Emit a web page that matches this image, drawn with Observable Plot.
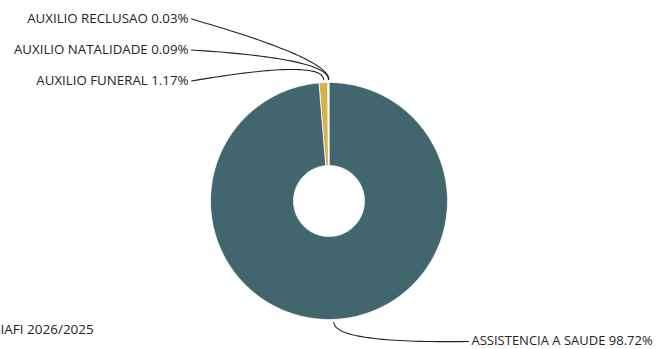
<!DOCTYPE html>
<html>
<head>
<meta charset="utf-8">
<script src="https://cdn.jsdelivr.net/npm/d3@7"></script>
<script src="https://cdn.jsdelivr.net/npm/@observablehq/plot@0.6"></script>
<style>
  html, body { margin: 0; padding: 0; background: #fff; }
  svg { display: block; }
</style>
</head>
<body>
<div id="chart"></div>
<script>
// Data
const categories = ["ASSISTENCIA A SAUDE", "AUXILIO FUNERAL", "AUXILIO NATALIDADE", "AUXILIO RECLUSAO"];
const shares = [98.72, 1.17, 0.09, 0.03];
const colors = ["#41666e", "#d6b04a", "#e9cdbd", "#e7c4b0"];
const caption = "IAFI 2026/2025";

// Geometry
const W = 661, H = 349;
const cx = 328.5, cy = 200.5, R = 118.5, r0 = 35.5;
const font = "'Open Sans', 'Segoe UI', sans-serif";
const fs = 13.3;

const pie = d3.pie().sort(null).value(d => d.value)(
  categories.map((name, i) => ({name, value: shares[i]}))
);

const pt = (a, rad) => [cx + rad * Math.sin(a), cy - rad * Math.cos(a)];

// slice polygons
const slicePts = [];
for (const p of pie) {
  const n = Math.max(2, Math.ceil((p.endAngle - p.startAngle) / 0.01));
  for (let k = 0; k <= n; k++) {
    const a = p.startAngle + (p.endAngle - p.startAngle) * k / n;
    const [x, y] = pt(a, R);
    slicePts.push({name: p.data.name, x, y});
  }
  for (let k = n; k >= 0; k--) {
    const a = p.startAngle + (p.endAngle - p.startAngle) * k / n;
    const [x, y] = pt(a, r0);
    slicePts.push({name: p.data.name, x, y});
  }
}

// labels layout
const left = pie.filter(p => (p.startAngle + p.endAngle) / 2 > Math.PI);
const right = pie.filter(p => (p.startAngle + p.endAngle) / 2 <= Math.PI);
const labels = [];
left.forEach((p, i) => {
  labels.push({p, side: "left", y: cy - R - 1.5 - i * 31, xEnd: 191});
});
right.forEach((p, i) => {
  labels.push({p, side: "right", y: cy + R + 22 + i * 31, xEnd: 468});
});

const leaderPts = [];
for (const L of labels) {
  const a = (L.p.startAngle + L.p.endAngle) / 2;
  const P0 = pt(a, R + 3);
  const P1 = pt(a, R + 24);
  const P2 = [L.xEnd, L.y];
  for (let k = 0; k <= 40; k++) {
    const t = k / 40, u = 1 - t;
    leaderPts.push({
      name: L.p.data.name,
      x: u * u * P0[0] + 2 * u * t * P1[0] + t * t * P2[0],
      y: u * u * P0[1] + 2 * u * t * P1[1] + t * t * P2[1]
    });
  }
}

const labelData = labels.map(L => ({
  text: `${L.p.data.name} ${L.p.data.value.toFixed(2)}%`,
  x: L.side === "left" ? L.xEnd - 3 : L.xEnd + 3,
  y: L.y + (L.side === "left" ? -0.5 : -0.5),
  anchor: L.side === "left" ? "end" : "start"
}));

const chart = Plot.plot({
  width: W,
  height: H,
  margin: 0,
  x: {type: "identity", axis: null},
  y: {type: "identity", axis: null},
  color: {domain: categories, range: colors},
  style: {fontFamily: font, background: "#fff"},
  marks: [
    Plot.line(slicePts, {x: "x", y: "y", z: "name", fill: "name", stroke: "#fff", strokeWidth: 0.8, curve: "linear-closed"}),
    Plot.line(leaderPts, {x: "x", y: "y", z: "name", stroke: "#fff", strokeWidth: 3.2}),
    Plot.line(leaderPts, {x: "x", y: "y", z: "name", stroke: "#222", strokeWidth: 1.1}),
    Plot.text(labelData.filter(d => d.anchor === "end"), {x: "x", y: "y", text: "text", textAnchor: "end", fontSize: fs, fill: "#252423"}),
    Plot.text(labelData.filter(d => d.anchor === "start"), {x: "x", y: "y", text: "text", textAnchor: "start", fontSize: 13, fill: "#252423"}),
    Plot.text([caption], {x: 0, y: 329.5, text: d => d, textAnchor: "start", fontSize: 13.5, fill: "#252423"})
  ]
});
document.getElementById("chart").append(chart);
</script>
</body>
</html>
